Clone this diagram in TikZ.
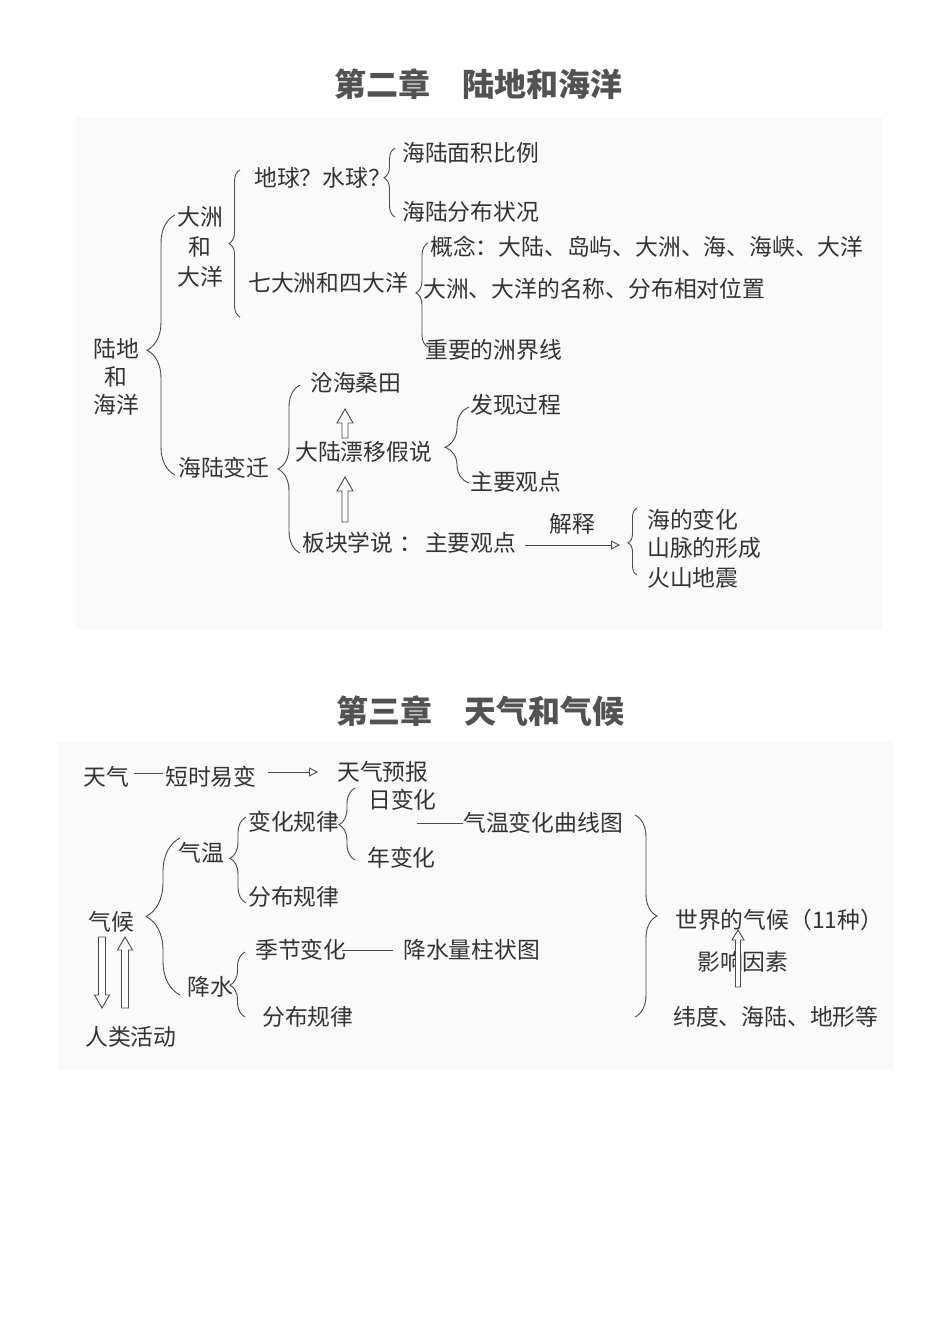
\documentclass[tikz,border=0pt]{standalone}
\usepackage{fontspec}
\newfontfamily\cjk{Noto Sans CJK SC}
\usetikzlibrary{decorations.pathreplacing,arrows.meta,calc}
\definecolor{txt}{HTML}{333333}
\definecolor{ln}{HTML}{4A4A4A}
\definecolor{panel}{HTML}{FAFAFA}
\newcommand\hollowarrow[5]{% start, target, body half width, head half width, head length
  \draw[harrow] let \p1=(#1), \p2=(#2), \n1={ifthenelse(\y2>\y1,-#5,#5)} in
   (\x1-#3,\y1) -- (\x1-#3,\y2+\n1) -- (\x1-#4,\y2+\n1) -- (\x1,\y2)
   -- (\x1+#4,\y2+\n1) -- (\x1+#3,\y2+\n1) -- (\x1+#3,\y1) -- cycle;}
\begin{document}
\begin{tikzpicture}[x=1pt,y=-1pt,
  lbl/.style={font=\cjk\fontsize{22.8}{28}\selectfont, text=txt, inner sep=0pt, anchor=west},
  ttl/.style={font=\cjk\bfseries\fontsize{32}{36}\selectfont, text=black!68, inner sep=0pt},
  br/.style 2 args={draw=ln, line width=0.9pt, decorate, decoration={brace, amplitude=#1, aspect=#2}},
  conn/.style={draw=ln, line width=0.9pt},
  opentip/.style={conn, -{Triangle[open, length=9pt, width=9pt]}},
  harrow/.style={draw=ln, line width=0.9pt, fill=white},
]
\useasboundingbox (0,0) rectangle (950,1344);
\fill[white] (0,0) rectangle (950,1344);
\fill[panel] (76,118) rectangle (883,630);
\fill[panel] (57,742) rectangle (893,1070);

% ---------------- Chapter 2 ----------------
\node[ttl] (t1) at (478,84) {第二章\hspace{1em}陆地和海洋};

\node[lbl, anchor=center, align=center] (ldhy) at (116,377) {陆地\\和\\海洋};
\node[lbl, anchor=center, align=center, font=\cjk\fontsize{22.8}{30}\selectfont] (dzdy) at (200,247) {大洲\\和\\大洋};
\node[lbl] (dq) at (254,178) {地球？水球？};
\node[lbl] (mj) at (402,153) {海陆面积比例};
\node[lbl] (fb) at (402,212) {海陆分布状况};
\node[lbl] (qdz) at (248,283) {七大洲和四大洋};
\node[lbl] (gn) at (430,247) {概念：大陆、岛屿、大洲、海、海峡、大洋};
\node[lbl] (mc) at (423,289) {大洲、大洋的名称、分布相对位置};
\node[lbl] (jx) at (425,350) {重要的洲界线};
\node[lbl] (hlbq) at (178,468) {海陆变迁};
\node[lbl] (chst) at (310,383) {沧海桑田};
\node[lbl] (dlpy) at (295,452) {大陆漂移假说};
\node[lbl] (fxgc) at (470,405) {发现过程};
\node[lbl] (zygd) at (470,482) {主要观点};
\node[lbl] (bkxs) at (302,543) {板块学说\hspace{6pt}：\hspace{3pt}主要观点};
\node[lbl] (hdbh) at (647,520) {海的变化};
\node[lbl] (smxc) at (647,548) {山脉的形成};
\node[lbl] (hsdz) at (647,578) {火山地震};

% braces
\draw[br={28}{0.48}] (175,475) -- (175,215);
\draw[br={11}{0.5}] (240,317) -- (240,170);
\draw[br={11}{0.57}] (395,217) -- (395,148);
\draw[br={12}{0.52}] (428,347) -- (428,243);
\draw[br={22}{0.5}] (300,553) -- (300,385);
\draw[br={24}{0.47}] (469,483) -- (469,407);
\draw[br={9}{0.48}] (637,575) -- (637,508);

% explain arrow
\coordinate (b7tip) at (628,545);
\draw[opentip, shorten <=8pt, shorten >=8pt] (bkxs.east |- b7tip) -- node[lbl, anchor=south, above=10pt] (jiesh) {解释} (b7tip);

% hollow arrows
\coordinate (a1s) at (345,438); \coordinate (a1e) at (345,409);
\coordinate (a2s) at (345,522); \coordinate (a2e) at (345,477);
\hollowarrow{a1s}{a1e}{3pt}{8pt}{14}
\hollowarrow{a2s}{a2e}{3pt}{8pt}{14}

% ---------------- Chapter 3 ----------------
\node[ttl] (t2) at (480,711) {第三章\hspace{1em}天气和气候};

\node[lbl] (tq) at (83,777) {天气};
\node[lbl] (dsyb) at (165,777) {短时易变};
\node[lbl] (tqyb) at (337,772) {天气预报};
\draw[conn, shorten <=5pt, shorten >=2pt] ($(tq.east)+(0,-4)$) -- ($(dsyb.west)+(0,-4)$);
\draw[opentip, shorten <=11pt, shorten >=19pt] (dsyb.east |- tqyb) -- (tqyb.west);

\node[lbl] (bhgl) at (248,822) {变化规律};
\node[lbl] (rbh) at (368,800) {日变化};
\node[lbl] (nbh) at (367,858) {年变化};
\draw[br={16}{0.49}] (355,860) -- (355,788);
\node[lbl] (qwqx) at (463,823) {气温变化曲线图};
\coordinate (qxs) at (417,823);
\draw[conn] (qxs) -- (qwqx.west);

\node[lbl] (qw) at (178,853) {气温};
\draw[br={16}{0.52}] (246,903) -- (246,817);
\node[lbl] (fbgl1) at (248,897) {分布规律};

\node[lbl] (qh) at (88,922) {气候};
\draw[br={34}{0.5}] (180,995) -- (180,838);

\node[lbl] (js) at (187,987) {降水};
\draw[br={15}{0.49}] (245,1017) -- (245,952);
\node[lbl] (jjbh) at (255,950) {季节变化};
\node[lbl] (jslz) at (403,950) {降水量柱状图};
\draw[conn, shorten <=-5pt, shorten >=10pt] (jjbh.east) -- (jslz.west);
\node[lbl] (fbgl2) at (262,1017) {分布规律};

\node[lbl] (rlhd) at (85,1037) {人类活动};
\coordinate (d1s) at (102,937); \coordinate (d1e) at (102,1008);
\coordinate (u1s) at (125,1008); \coordinate (u1e) at (125,937);
\hollowarrow{d1s}{d1e}{3.5pt}{7.5pt}{13}
\hollowarrow{u1s}{u1e}{3.5pt}{7.5pt}{13}

\draw[br={22}{0.5}] (635,815) -- (635,1017);
\node[lbl] (sjqh) at (675,920) {世界的气候（11种）};
\node[lbl] (yxys) at (697,962) {影响因素};
\node[lbl] (wd) at (673,1017) {纬度、海陆、地形等};
\coordinate (y1s) at (738,987); \coordinate (y1e) at (738,930);
\hollowarrow{y1s}{y1e}{2.5pt}{6pt}{10}
\end{tikzpicture}
\end{document}
